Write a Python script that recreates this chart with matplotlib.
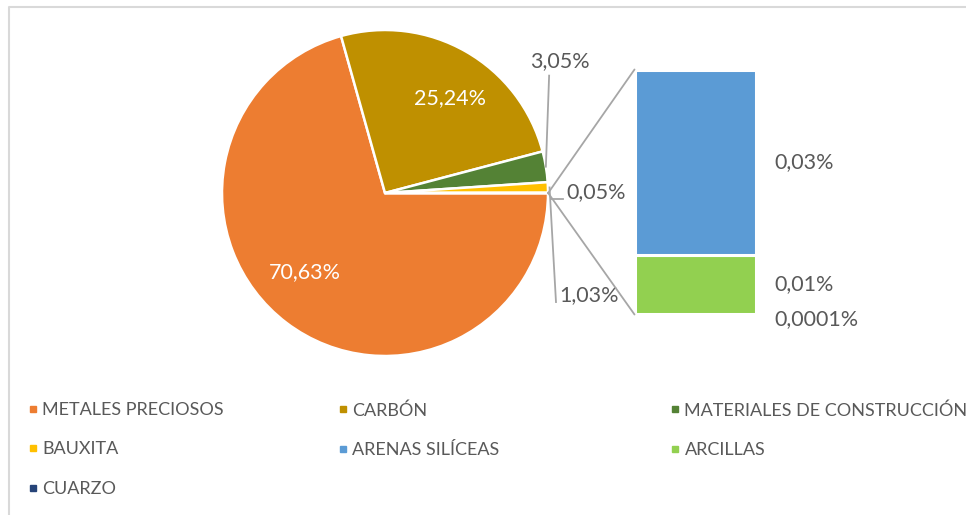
import matplotlib
matplotlib.use("Agg")
import matplotlib.pyplot as plt
import numpy as np
from matplotlib.lines import Line2D
from matplotlib.patches import ConnectionPatch

plt.rcParams["font.family"] = ["Lato", "DejaVu Sans"]

# main pie (last slice = "other", expanded into the bar)
PIE_LABELS = ["METALES PRECIOSOS", "CARBÓN", "MATERIALES DE CONSTRUCCIÓN", "BAUXITA", "OTROS"]
PIE_VALUES = [70.63, 25.24, 3.05, 1.03, 0.05]
PIE_COLORS = ["#ED7D31", "#BF9000", "#548235", "#FFC000", "#A5A5A5"]

# secondary bar, bottom to top
BAR_LABELS = ["CUARZO", "ARCILLAS", "ARENAS SILÍCEAS"]
BAR_VALUES = [0.0001, 0.0108, 0.034]
BAR_COLORS = ["#264478", "#92D050", "#5B9BD5"]

# legend order as shown (row-wise in the picture)
LEGEND_ROWS = [
    ["METALES PRECIOSOS", "CARBÓN", "MATERIALES DE CONSTRUCCIÓN"],
    ["BAUXITA", "ARENAS SILÍCEAS", "ARCILLAS"],
    ["CUARZO"],
]

GRAY = "#595959"
LINE = "#A6A6A6"
W, H = 966, 515
FS = 15.5


def pct(v):
    s = f"{v:.2f}" if v >= 0.005 else f"{v:.4f}"
    return s.replace(".", ",") + "%"


def box(x0, y0, x1, y1):
    return [x0 / W, 1 - y1 / H, (x1 - x0) / W, (y1 - y0) / H]


fig = plt.figure(figsize=(W / 100, H / 100), dpi=100)
fig.patch.set_facecolor("white")

# ---- pie
ax = fig.add_axes(box(222, 30, 548, 356))
other_ang = PIE_VALUES[-1] / sum(PIE_VALUES) * 360
wedges, _ = ax.pie(PIE_VALUES, colors=PIE_COLORS, startangle=-other_ang / 2,
                   counterclock=False, radius=1,
                   wedgeprops=dict(edgecolor="white", linewidth=1.8))
ax.set_xlim(-1, 1)
ax.set_ylim(-1, 1)
ax.set_aspect("equal")
ax.axis("off")

mids = [np.deg2rad((w.theta1 + w.theta2) / 2) for w in wedges]

# inside labels
ax.text(-0.49, -0.485, pct(PIE_VALUES[0]), color="white", fontsize=FS,
        ha="center", va="center")
ax.text(0.40, 0.58, pct(PIE_VALUES[1]), color="white", fontsize=FS,
        ha="center", va="center")

# outside labels with leader lines
ex, ey = np.cos(mids[2]), np.sin(mids[2])
ax.plot([ex, ex + 0.02], [ey, 0.72], color=LINE, lw=1.3, clip_on=False)
ax.text(1.074, 0.81, pct(PIE_VALUES[2]), color=GRAY, fontsize=FS,
        ha="center", va="center")

ex, ey = np.cos(mids[3]), np.sin(mids[3])
ax.plot([ex + 0.01, 1.049], [ey, -0.669], color=LINE, lw=1.3, clip_on=False)
ax.text(1.068, -0.626, pct(PIE_VALUES[3]), color=GRAY, fontsize=FS,
        ha="left", va="center")

ax.plot([1.018, 1.092], [-0.037, -0.037], color=LINE, lw=1.3, clip_on=False)
ax.text(1.11, 0.006, pct(PIE_VALUES[4]), color=GRAY, fontsize=FS,
        ha="left", va="center")

# ---- bar of pie
ax2 = fig.add_axes(box(634.5, 69.5, 755.5, 314.5))
total = sum(BAR_VALUES)
bottoms = np.concatenate([[0], np.cumsum(BAR_VALUES)[:-1]])
ax2.bar(0, BAR_VALUES, bottom=bottoms, width=1, color=BAR_COLORS,
        edgecolor="white", linewidth=2.2)
ax2.set_xlim(-0.5, 0.5)
ax2.set_ylim(0, total)
ax2.axis("off")
for v, b in zip(BAR_VALUES, bottoms):
    off = -5 if v < 0.001 else 0
    ax2.annotate(pct(v), (0.655, b + v / 2), xytext=(0, off), textcoords="offset pixels",
                 color=GRAY, fontsize=FS, ha="left", va="center",
                 annotation_clip=False)

# connector lines pie -> bar
oth = wedges[-1]
for ang, yb in ((oth.theta1, total), (oth.theta2, 0)):
    a = np.deg2rad(ang)
    con = ConnectionPatch(xyA=(np.cos(a), np.sin(a)), coordsA=ax.transData,
                          xyB=(-0.5, yb), coordsB=ax2.transData,
                          color=LINE, lw=1.3)
    fig.add_artist(con)

# ---- legend (three columns placed separately)
colors = dict(zip(PIE_LABELS + BAR_LABELS, PIE_COLORS + BAR_COLORS))
col_x = [28, 338, 670]
for c, x in enumerate(col_x):
    labels = [row[c] for row in LEGEND_ROWS if c < len(row)]
    handles = [Line2D([], [], marker="s", linestyle="none", color=colors[l],
                      markersize=5) for l in labels]
    fig.legend(handles, labels, loc="upper left", bbox_to_anchor=(x / W, 1 - 402 / H),
               frameon=False, fontsize=13, labelcolor=GRAY, handlelength=0.5,
               handletextpad=0.3, labelspacing=1.3, borderpad=0, borderaxespad=0)

# chart area border (cut at right/bottom)
fig.add_artist(Line2D([9 / W, 9 / W, 1], [0, 1 - 7 / H, 1 - 7 / H],
                      transform=fig.transFigure, color="#D9D9D9", lw=1.5))

fig.savefig("out.png", dpi=100, facecolor="white")
